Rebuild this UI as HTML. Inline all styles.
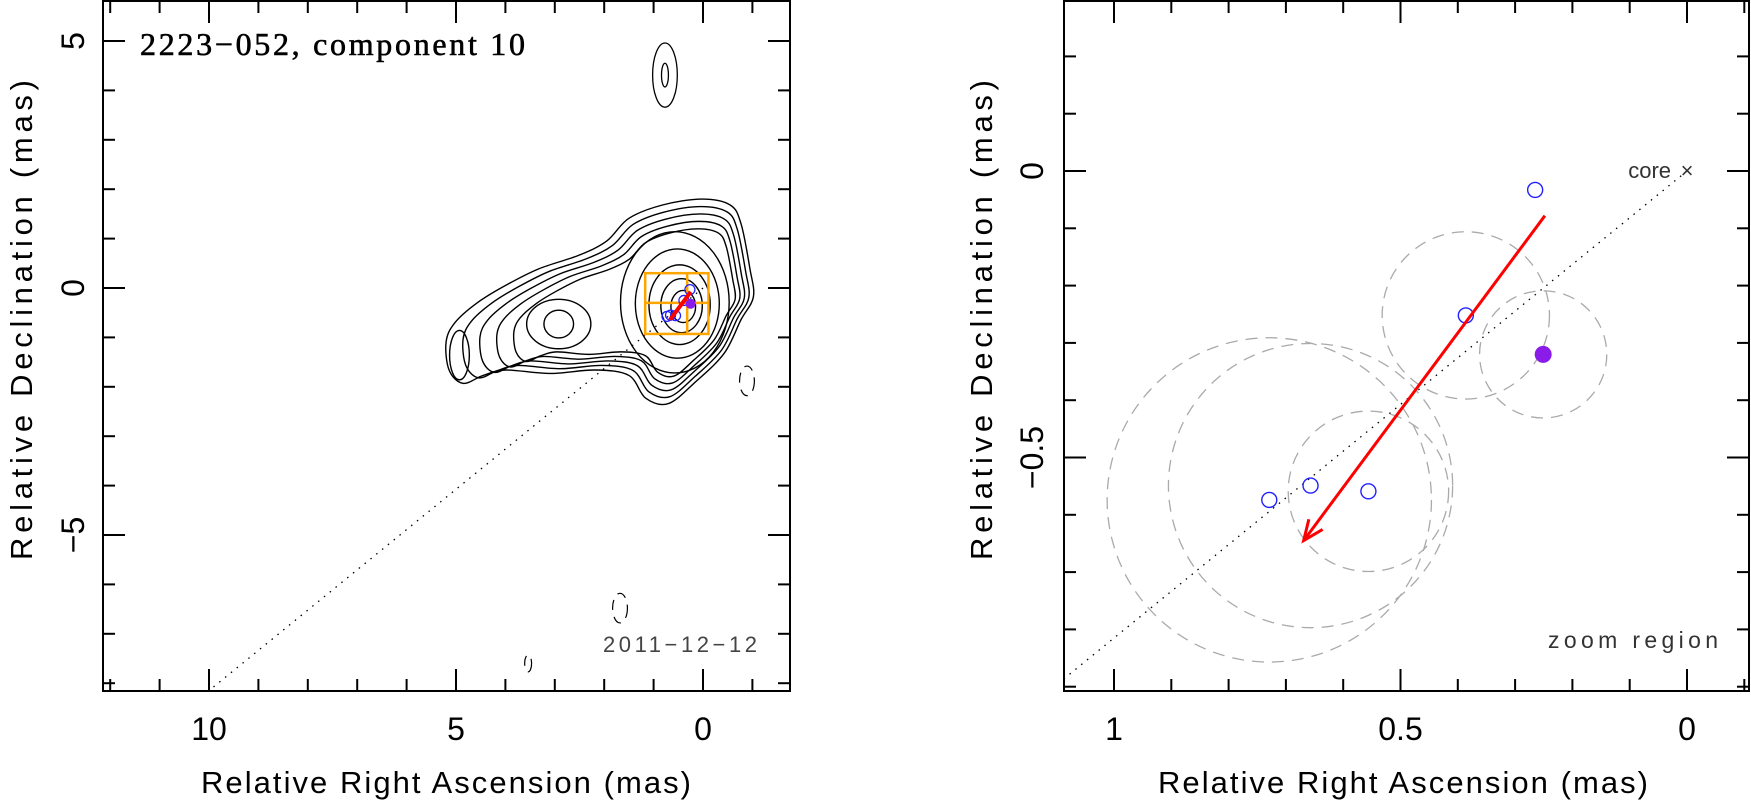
<!DOCTYPE html>
<html><head><meta charset="utf-8"><style>
html,body{margin:0;padding:0;background:#fff;overflow:hidden;width:1751px;height:809px;}
svg{display:block;font-family:"Liberation Sans",sans-serif;}
</style></head><body>
<svg id="s" width="1751" height="809" viewBox="0 0 1751 809" xmlns="http://www.w3.org/2000/svg"></svg>
<script>
// ---- data ----
const compRA  = [0.265, 0.386, 0.556, 0.657, 0.729];
const compDec = [-0.033, -0.252, -0.559, -0.549, -0.574];
const compSize = [0, 0.146, 0.14, 0.248, 0.283];
const coreFitRA = [0.251];
const coreFitDec = [-0.320];
const coreFitSize = [0.111];
const arrowRA = [0.248, 0.669];
const arrowDec = [-0.078, -0.645];
const jetSlope = [0.815];
const leftXTicks = [10, 5, 0];
const leftYTicks = [5, 0, -5];
const rightXTicks = [1, 0.5, 0];
const rightYTicks = [0, -0.5];
const rightXTickLabels = ["1", "0.5", "0"];
const rightYTickLabels = ["0", "\u22120.5"];
const outerRA  = [-1.02,-0.95,-0.77,-0.55,0.02,0.82,1.5,1.95,2.52,3.32,4.0,4.57,5.02,5.2,5.14,4.86,4.45,4.0,3.09,2.18,1.5,1.16,0.7,0.14,-0.43,-0.77];
const outerDec = [-0.18,0.39,1.30,1.68,1.80,1.68,1.41,0.95,0.66,0.39,0.05,-0.3,-0.70,-1.09,-1.66,-1.93,-1.77,-1.66,-1.73,-1.66,-1.77,-2.23,-2.34,-1.89,-1.32,-0.64];
const mergedLevels = [0, 0.07, 0.14, 0.21, 0.28];
const coreRx = [1.1, 0.85, 0.62, 0.42, 0.25];

const NS="http://www.w3.org/2000/svg";
const svg=document.getElementById('s');
function el(tag,attrs,parent){const e=document.createElementNS(NS,tag);for(const k in attrs)e.setAttribute(k,attrs[k]);(parent||svg).appendChild(e);return e;}

const L={x0:103,x1:790,y0:1,y1:691,X:ra=>703-49.4*ra,Y:d=>288-49.4*d};
const RS=573;
const R={x0:1064,x1:1749,y0:1,y1:691,X:ra=>1687-RS*ra,Y:d=>171-RS*d};

const defs=el('defs',{});
const c1=el('clipPath',{id:'cl'},defs);el('rect',{x:L.x0,y:L.y0,width:L.x1-L.x0,height:L.y1-L.y0},c1);
const c2=el('clipPath',{id:'cr'},defs);el('rect',{x:R.x0,y:R.y0,width:R.x1-R.x0,height:R.y1-R.y0},c2);

function smooth(pts){let d=`M${pts[0][0]},${pts[0][1]}`;const n=pts.length;
 for(let i=0;i<n;i++){const p0=pts[(i-1+n)%n],p1=pts[i],p2=pts[(i+1)%n],p3=pts[(i+2)%n];
  d+=` C${p1[0]+(p2[0]-p0[0])/6},${p1[1]+(p2[1]-p0[1])/6} ${p2[0]-(p3[0]-p1[0])/6},${p2[1]-(p3[1]-p1[1])/6} ${p2[0]},${p2[1]}`;}
 return d+'Z';}

// ---------- LEFT PANEL ----------
const gl=el('g',{'clip-path':'url(#cl)'});

const dl=el('line',{x1:L.X(0),y1:L.Y(0),x2:L.X(12),y2:L.Y(-12*jetSlope[0]),stroke:'#000','stroke-width':1.3,'stroke-dasharray':'1.5 6'},gl);

const cRA=0.3,cDec=-0.35;
mergedLevels.forEach((t,i)=>{
 const pts=outerRA.map((r,j)=>{const rr=cRA+(r-cRA)*(1-t),dd=cDec+(outerDec[j]-cDec)*(1-t);return [L.X(rr),L.Y(dd)];});
 const p=el('path',{d:smooth(pts),fill:'none',stroke:'#000','stroke-width':1.4},gl);
 
});
coreRx.forEach((rx,i)=>{
 const cx=0.35+0.2*rx, cy=-0.4+0.1*rx;
 const e=el('ellipse',{cx:L.X(cx),cy:L.Y(cy),rx:rx*49.4,ry:rx*1.3*49.4,fill:'none',stroke:'#000','stroke-width':1.4},gl);
 
});
[[0.65,0.5],[0.3,0.28]].forEach(([rx,ry])=>{
 const e=el('ellipse',{cx:L.X(2.92),cy:L.Y(-0.73),rx:rx*49.4,ry:ry*49.4,fill:'none',stroke:'#000','stroke-width':1.4},gl);
 
});
let e;
e=el('ellipse',{cx:L.X(4.93),cy:L.Y(-1.36),rx:0.2*49.4,ry:0.5*49.4,fill:'none',stroke:'#000','stroke-width':1.4},gl);

[[0.25,0.65],[0.07,0.24]].forEach(([rx,ry])=>{
 const q=el('ellipse',{cx:L.X(0.77),cy:L.Y(4.31),rx:rx*49.4,ry:ry*49.4,fill:'none',stroke:'#000','stroke-width':1.3},gl);
 
});
[[-0.89,-1.88,0.15,0.3],[1.68,-6.48,0.15,0.3],[3.54,-7.6,0.07,0.17]].forEach(([a,b,rx,ry])=>{
 const q=el('ellipse',{cx:L.X(a),cy:L.Y(b),rx:rx*49.4,ry:ry*49.4,fill:'none',stroke:'#000','stroke-width':1.2,'stroke-dasharray':'10 7'},gl);
 
});
const bx=el('g',{stroke:'#ffa500','stroke-width':2.5,fill:'none'},gl);

el('rect',{x:L.X(1.17),y:L.Y(0.30),width:L.X(-0.11)-L.X(1.17),height:L.Y(-0.93)-L.Y(0.30)},bx);
el('line',{x1:L.X(1.17),y1:L.Y(-0.30),x2:L.X(-0.11),y2:L.Y(-0.30)},bx);
el('line',{x1:L.X(0.32),y1:L.Y(0.30),x2:L.X(0.32),y2:L.Y(-0.93)},bx);
compRA.forEach((r,i)=>{const q=el('circle',{cx:L.X(r),cy:L.Y(compDec[i]),r:5,fill:'none',stroke:'#2222ff','stroke-width':1.3},gl);
 });
e=el('circle',{cx:L.X(coreFitRA[0]),cy:L.Y(coreFitDec[0]),r:5,fill:'#8a1be8'},gl);

e=el('line',{x1:L.X(arrowRA[0]),y1:L.Y(arrowDec[0]),x2:L.X(arrowRA[1]),y2:L.Y(arrowDec[1]),stroke:'#ff0000','stroke-width':4},gl);


// ---------- RIGHT PANEL ----------
const gr=el('g',{'clip-path':'url(#cr)'});

e=el('line',{x1:R.X(0),y1:R.Y(0),x2:R.X(1.5),y2:R.Y(-1.5*jetSlope[0]),stroke:'#000','stroke-width':1.3,'stroke-dasharray':'1.5 6'},gr);

compRA.forEach((r,i)=>{if(compSize[i]>0){const q=el('circle',{cx:R.X(r),cy:R.Y(compDec[i]),r:compSize[i]*RS,fill:'none',stroke:'#aaa','stroke-width':1.3,'stroke-dasharray':'12 8'},gr);
 }});
e=el('circle',{cx:R.X(coreFitRA[0]),cy:R.Y(coreFitDec[0]),r:coreFitSize[0]*RS,fill:'none',stroke:'#aaa','stroke-width':1.3,'stroke-dasharray':'12 8'},gr);

compRA.forEach((r,i)=>{const q=el('circle',{cx:R.X(r),cy:R.Y(compDec[i]),r:7.5,fill:'none',stroke:'#2222ff','stroke-width':1.4},gr);
 });
e=el('circle',{cx:R.X(coreFitRA[0]),cy:R.Y(coreFitDec[0]),r:8.5,fill:'#8a1be8'},gr);

{const x1=R.X(arrowRA[0]),y1=R.Y(arrowDec[0]),x2=R.X(arrowRA[1]),y2=R.Y(arrowDec[1]);
 const a=Math.atan2(y2-y1,x2-x1),h=22;
 const g=el('g',{},gr);
 el('line',{x1,y1,x2,y2,stroke:'#ff0000','stroke-width':3},g);
 el('path',{d:`M${x2-h*Math.cos(a-0.4)},${y2-h*Math.sin(a-0.4)} L${x2},${y2} L${x2-h*Math.cos(a+0.4)},${y2-h*Math.sin(a+0.4)}`,fill:'none',stroke:'#ff0000','stroke-width':3},g);}
e=el('text',{x:R.X(0),y:R.Y(0)+7,'font-size':22,'text-anchor':'middle',fill:'#333'},gr);e.textContent='\u00d7';

e=el('text',{x:R.X(0)-16,y:R.Y(0)+7,'font-size':22,'text-anchor':'end',fill:'#333'});e.textContent='core';

e=el('text',{x:1718,y:648,'font-size':23,'text-anchor':'end',fill:'#333',textLength:170});e.textContent='zoom region';


// ---------- frames & ticks ----------
function frame(P,name,xMin,xMax,xStep,xMajor,yMin,yMax,yStep,yMajor,Xf,Yf){
 const g=el('g',{stroke:'#000','stroke-width':2,fill:'none'});
 
 el('rect',{x:P.x0,y:P.y0,width:P.x1-P.x0,height:P.y1-P.y0},g);
 for(let k=Math.ceil(xMin/xStep);k*xStep<=xMax+1e-9;k++){const v=k*xStep,x=Xf(v);if(x<P.x0||x>P.x1)continue;
  const maj=Math.abs(v/xMajor-Math.round(v/xMajor))<1e-6,len=maj?22:12;
  el('line',{x1:x,y1:P.y1,x2:x,y2:P.y1-len},g);el('line',{x1:x,y1:P.y0,x2:x,y2:P.y0+len},g);}
 for(let k=Math.ceil(yMin/yStep);k*yStep<=yMax+1e-9;k++){const v=k*yStep,y=Yf(v);if(y<P.y0||y>P.y1)continue;
  const maj=Math.abs(v/yMajor-Math.round(v/yMajor))<1e-6,len=maj?22:12;
  el('line',{x1:P.x0,y1:y,x2:P.x0+len,y2:y},g);el('line',{x1:P.x1,y1:y,x2:P.x1-len,y2:y},g);}
}
frame(L,'left-frame',-2,12,1,5,-9,6,1,5,L.X,L.Y);
frame(R,'right-frame',-0.2,1.2,0.1,0.5,-1,0.4,0.1,0.5,R.X,R.Y);

leftXTicks.forEach(v=>{const t=el('text',{x:L.X(v),y:740,'font-size':32,'text-anchor':'middle'});t.textContent=String(v);
 });
leftYTicks.forEach(v=>{const t=el('text',{x:0,y:0,'font-size':32,'text-anchor':'middle',transform:`translate(84,${L.Y(v)}) rotate(-90)`});t.textContent=v<0?'\u2212'+Math.abs(v):String(v);
 });
rightXTicks.forEach((v,i)=>{const t=el('text',{x:R.X(v),y:740,'font-size':32,'text-anchor':'middle'});t.textContent=rightXTickLabels[i];
 });
rightYTicks.forEach((v,i)=>{const t=el('text',{x:0,y:0,'font-size':32,'text-anchor':'middle',transform:`translate(1043,${R.Y(v)}) rotate(-90)`});t.textContent=rightYTickLabels[i];
 });

e=el('text',{x:446,y:793,'font-size':31,'text-anchor':'middle',textLength:490});e.textContent='Relative Right Ascension (mas)';

e=el('text',{x:1403,y:793,'font-size':31,'text-anchor':'middle',textLength:490});e.textContent='Relative Right Ascension (mas)';

e=el('text',{x:0,y:0,'font-size':31,'text-anchor':'middle',textLength:480,transform:'translate(32,320) rotate(-90)'});e.textContent='Relative Declination (mas)';

e=el('text',{x:0,y:0,'font-size':31,'text-anchor':'middle',textLength:480,transform:'translate(992,320) rotate(-90)'});e.textContent='Relative Declination (mas)';

e=el('text',{x:140,y:55,'font-size':32,'font-family':'Liberation Serif, serif',stroke:'#000','stroke-width':0.6,textLength:385});e.textContent='2223\u2212052, component 10';

e=el('text',{x:603,y:652,'font-size':22,fill:'#444',textLength:154});e.textContent='2011\u221212\u221212';

</script>
</body></html>
